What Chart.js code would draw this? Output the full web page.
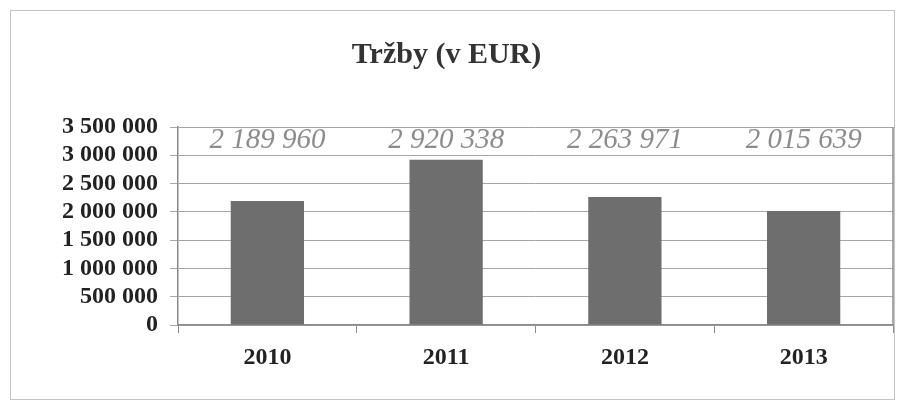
<!DOCTYPE html>
<html>
<head>
<meta charset="utf-8">
<script src="https://cdn.jsdelivr.net/npm/chart.js@4/dist/chart.umd.min.js"></script>
<style>
	html, body { margin: 0; padding: 0; background: #fff; }
	#wrap { position: relative; width: 901px; height: 406px; }
</style>
</head>
<body>
<div id="wrap"><canvas id="trzby" width="901" height="406"></canvas></div>
<script>
const years = ['2010', '2011', '2012', '2013'];
const revenue = [2189960, 2920338, 2263971, 2015639];
const yTicks = [0, 500000, 1000000, 1500000, 2000000, 2500000, 3000000, 3500000];

const serif = '"Liberation Serif", "Times New Roman", serif';

function spaced(n) {
	return String(n).replace(/\B(?=(\d{3})+(?!\d))/g, ' ');
}

// outer frame + right edge of the plot area
const framePlugin = {
	id: 'frame',
	beforeDraw(chart) {
		const ctx = chart.ctx;
		ctx.save();
		ctx.strokeStyle = '#c4c4c4';
		ctx.lineWidth = 1;
		ctx.strokeRect(10.5, 10.5, 884, 389);
		ctx.restore();
	},
	afterDatasetsDraw(chart) {
		const ctx = chart.ctx;
		const a = chart.chartArea;
		ctx.save();
		ctx.strokeStyle = '#8a8a8a';
		ctx.lineWidth = 1.5;
		ctx.beginPath();
		ctx.moveTo(a.right, a.top);
		ctx.lineTo(a.right, a.bottom);
		ctx.stroke();
		ctx.restore();
	}
};

// value labels sit along the top of the plot, above each bar
const valueLabels = {
	id: 'valueLabels',
	afterDatasetsDraw(chart) {
		const ctx = chart.ctx;
		const meta = chart.getDatasetMeta(0);
		ctx.save();
		ctx.font = 'italic 29px ' + serif;
		ctx.fillStyle = '#8c8c8c';
		ctx.textAlign = 'center';
		ctx.textBaseline = 'middle';
		meta.data.forEach((bar, i) => {
			ctx.fillText(spaced(revenue[i]), bar.x, chart.chartArea.top + 13);
		});
		ctx.restore();
	}
};

new Chart('trzby', {
	type: 'bar',
	data: {
		labels: years,
		datasets: [{
			data: revenue,
			backgroundColor: '#6e6e6e',
			borderWidth: 0,
			categoryPercentage: 1,
			barPercentage: 0.41
		}]
	},
	options: {
		responsive: false,
		animation: false,
		layout: { padding: { left: 0, right: 8, top: 0, bottom: 0 } },
		plugins: {
			legend: { display: false },
			tooltip: { enabled: false },
			title: {
				display: true,
				text: 'Tržby (v EUR)',
				color: '#333',
				font: { family: serif, size: 30, weight: 'bold' },
				padding: { top: 37, bottom: 54 }
			}
		},
		scales: {
			x: {
				offset: true,
				grid: {
					offset: true,
					drawOnChartArea: false,
					tickLength: 8,
					color: '#8a8a8a'
				},
				border: { color: '#8a8a8a', width: 1.5 },
				ticks: {
					color: '#222',
					padding: 10,
					font: { family: serif, size: 24, weight: 'bold' }
				},
				afterFit(axis) { axis.height = 81; }
			},
			y: {
				min: 0,
				max: 3500000,
				afterBuildTicks(axis) {
					axis.ticks = yTicks.map(v => ({ value: v }));
				},
				grid: {
					color: '#a6a6a6',
					tickLength: 8
				},
				border: { color: '#8a8a8a', width: 1.5 },
				ticks: {
					autoSkip: false,
					color: '#222',
					padding: 12,
					font: { family: serif, size: 24, weight: 'bold' },
					callback: v => spaced(v)
				},
				afterFit(axis) { axis.width = 178; }
			}
		}
	},
	plugins: [framePlugin, valueLabels]
});
</script>
</body>
</html>
